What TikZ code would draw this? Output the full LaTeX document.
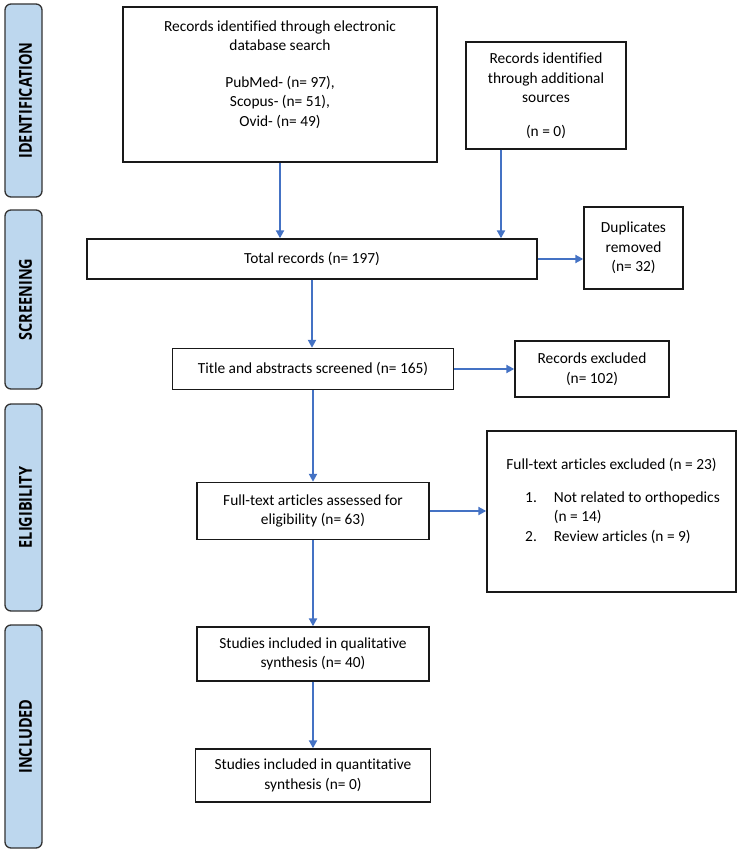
\documentclass[tikz,border=0pt]{standalone}
\usepackage{fontspec}
\setmainfont{Carlito}[Ligatures=NoCommon]
\newfontfamily\phasefont{Open Sans}
\usetikzlibrary{arrows.meta}
\definecolor{phaseblue}{RGB}{189,215,238}
\definecolor{flowblue}{RGB}{68,114,196}
\tikzstyle{phase}=[draw=black!80,fill=phaseblue,rounded corners=6pt,line width=1.3pt,minimum width=37pt,inner sep=0pt,font=\phasefont\bfseries\fontsize{14.5}{17}\selectfont]
\tikzstyle{box}=[draw=black!90,line width=1.4pt,align=center,inner sep=0pt,font=\fontsize{15.4}{19.5}\selectfont]
\tikzstyle{boxtext}=[align=center,inner sep=0pt,font=\fontsize{15.4}{19.5}\selectfont]
\tikzstyle{flow}=[draw=flowblue,line width=2pt,-{Triangle[length=8pt,width=8pt]}]

\begin{document}
\begin{tikzpicture}[x=1pt,y=-1pt]
    \useasboundingbox (0,0) rectangle (740,851);
		% phases on the left
		\node[phase, minimum height=193pt] (iden) at (23.5,100.5) {\hspace*{4pt}\rotatebox{90}{\scalebox{1}[1.23]{IDENTIFICATION}}};
		\node[phase, minimum height=179pt] (scrn) at (23.5,299.5) {\hspace*{4pt}\rotatebox{90}{\scalebox{1}[1.23]{SCREENING}}};
		\node[phase, minimum height=207pt] (elig) at (23.5,507.5) {\hspace*{4pt}\rotatebox{90}{\scalebox{1}[1.23]{ELIGIBILITY}}};
		\node[phase, minimum height=223pt] (incl) at (23.5,736.5) {\hspace*{4pt}\rotatebox{90}{\scalebox{1}[1.23]{INCLUDED}}};
		% boxes
		\node[box, minimum width=314pt, minimum height=155pt] (db) at (280,84.5) {};
		\node[boxtext, anchor=north] (dbtxt) at ([yshift=-14pt]db.north) {Records identified through electronic\\database search\\[17pt]PubMed- (n= 97),\\Scopus- (n= 51),\\Ovid- (n= 49)};
		\node[box, minimum width=160pt, minimum height=107pt] (addl) at (546,95.5) {Records identified\\through additional\\sources\\[14pt](n = 0)};
		\node[box, minimum width=450pt, minimum height=40pt] (total) at (312,259) {Total records (n= 197)};
		\node[box, minimum width=99pt, minimum height=82pt] (dup) at (633.5,248) {Duplicates\\removed\\(n= 32)};
		\node[box, minimum width=281pt, minimum height=41pt] (screen) at (313,369) {Title and abstracts screened (n= 165)};
		\node[box, minimum width=154pt, minimum height=56pt] (recexcl) at (592,369) {Records excluded\\(n= 102)};
		\node[box, minimum width=232pt, minimum height=57pt] (fulltext) at (313,511) {Full-text articles assessed for\\eligibility (n= 63)};
		\node[box, minimum width=249pt, minimum height=161pt] (ftexcl) at (611.5,511.5) {};
		\node[boxtext, anchor=north] (ftexcltxt) at ([yshift=-28pt]ftexcl.north) {Full-text articles excluded (n = 23)\\[13pt]\hspace*{22pt}\begin{tabular}[t]{@{}l@{\hspace{17pt}}l@{}}1. & Not related to orthopedics\\ & (n = 14)\\ 2. & Review articles (n = 9)\end{tabular}};
		\node[box, minimum width=232pt, minimum height=54pt] (qual) at (313,654) {Studies included in qualitative\\synthesis (n= 40)};
		\node[box, minimum width=235pt, minimum height=53pt] (quant) at (313,775.5) {Studies included in quantitative\\synthesis (n= 0)};
		% arrows
		\draw[flow] (db.south) -- (db.south |- total.north);
		\draw[flow] ([xshift=-45pt]addl.south) -- ([xshift=-45pt]addl.south |- total.north);
		\draw[flow] (total.east) -- (total.east -| dup.west);
		\draw[flow] (total.south) -- (total.south |- screen.north);
		\draw[flow] (screen.east) -- (screen.east -| recexcl.west);
		\draw[flow] (screen.south) -- (screen.south |- fulltext.north);
		\draw[flow] (fulltext.east) -- (fulltext.east -| ftexcl.west);
		\draw[flow] (fulltext.south) -- (fulltext.south |- qual.north);
		\draw[flow] (qual.south) -- (qual.south |- quant.north);
\end{tikzpicture}
\end{document}
